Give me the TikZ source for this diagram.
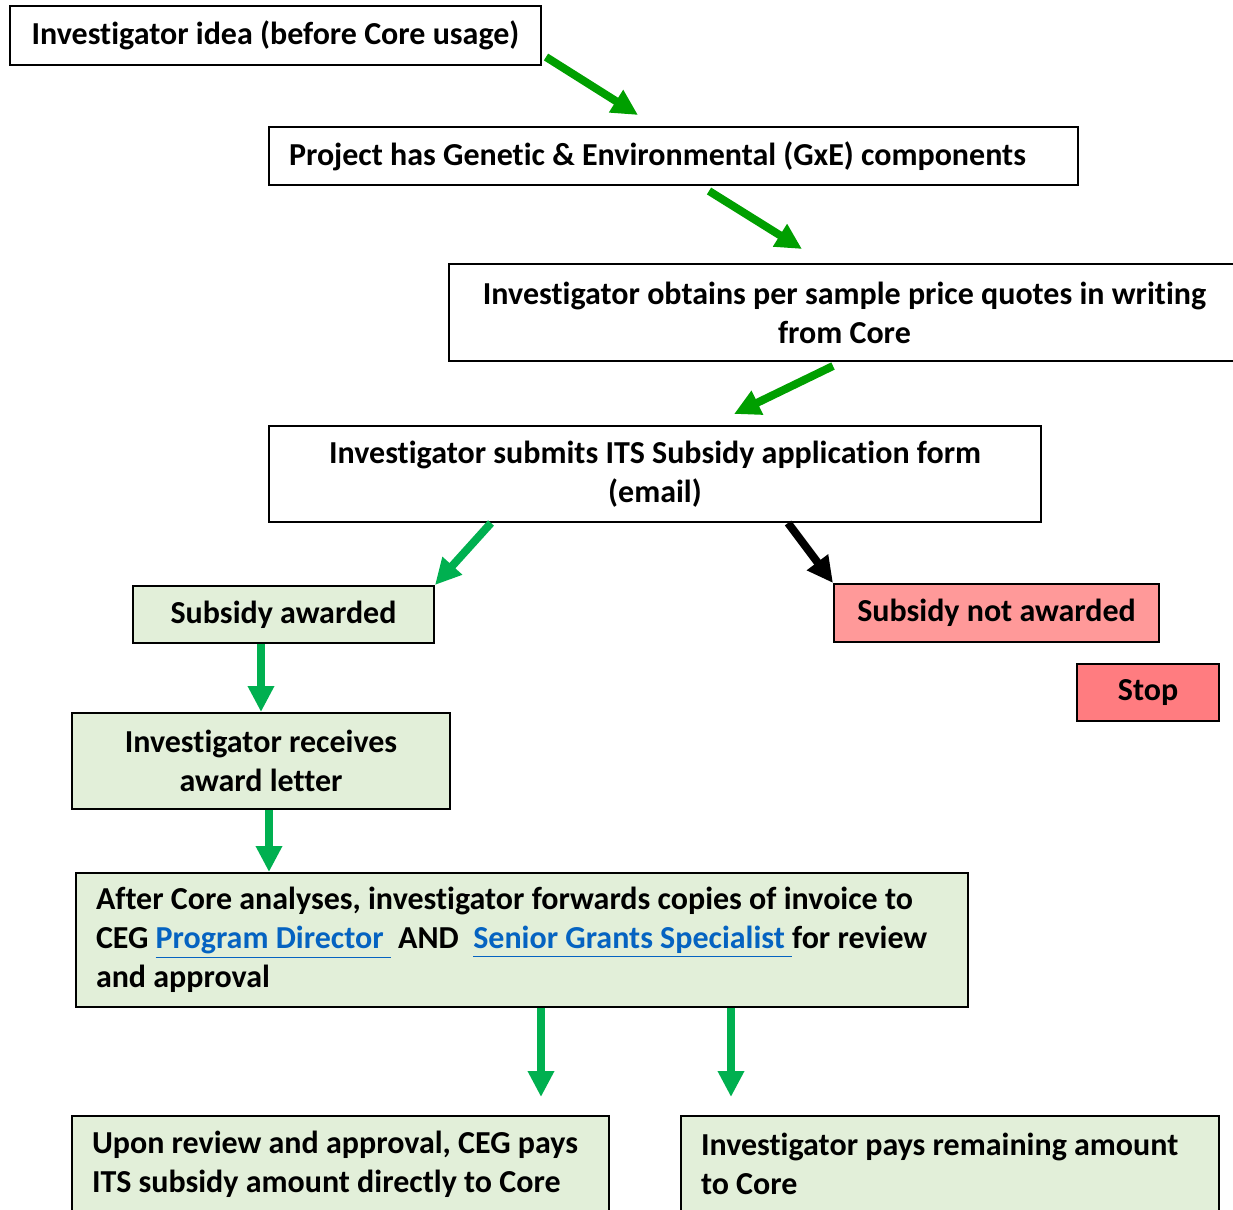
\documentclass[tikz,border=0pt]{standalone}
\usepackage{fontspec}
\setmainfont{Carlito}[Ligatures=NoCommon]
\usetikzlibrary{arrows.meta}
\definecolor{boxgreen}{HTML}{E2EFD9}
\definecolor{nopink}{HTML}{FF9999}
\definecolor{stoppink}{HTML}{FF7C80}
\definecolor{darkarrow}{HTML}{009F00}
\definecolor{brightarrow}{HTML}{00B050}
\definecolor{linkblue}{HTML}{0563C1}
\newcommand{\weblink}[1]{\textcolor{linkblue}{\underline{#1}}}
\tikzset{
  stepbox/.style={rectangle, draw, line width=1pt, inner sep=0pt, font=\fontsize{16}{19.5}\selectfont\bfseries},
  greenbox/.style={stepbox, fill=boxgreen},
  flow/.style={line width=4pt, -{Triangle[length=13pt,width=12.5pt]}},
}
\begin{document}
\begin{tikzpicture}[x=0.5pt, y=-0.5pt]
      \useasboundingbox (0,0) rectangle (1233,1210);
      % Nodes
      \node (idea) at (275.5,35.5) [stepbox, minimum width=265.5pt, minimum height=29.5pt] {Investigator idea (before Core usage)};
      \node (gxe) at (673.5,156) [stepbox, minimum width=404.5pt, minimum height=29pt, text width=384.5pt, align=flush left] {Project has Genetic \& Environmental (GxE) components};
      \node (quotes) at (844.5,312.5) [stepbox, minimum width=395.5pt, minimum height=48.5pt, align=center] {Investigator obtains per sample price quotes in writing\\from Core};
      \node (submits) at (655,474) [stepbox, minimum width=386pt, minimum height=48pt, align=center] {Investigator submits ITS Subsidy application form\\(email)};

      \node (awarded) at (283.5,614.5) [greenbox, minimum width=150.5pt, minimum height=28.5pt] {Subsidy awarded};
      \node (notaw) at (996.5,613) [stepbox, fill=nopink, minimum width=162.5pt, minimum height=29pt] {Subsidy not awarded};
      \node (stop) at (1148,692.5) [stepbox, fill=stoppink, minimum width=71pt, minimum height=28.5pt] {Stop};
      \node (receives) at (261,761) [greenbox, minimum width=189pt, minimum height=48pt, align=center] {Investigator receives\\award letter};

      \node (after) at (522,940) [greenbox, minimum width=446pt, minimum height=67pt, text width=426pt, align=flush left] {After Core analyses, investigator forwards copies of invoice to\\CEG \weblink{Program Director\ } AND\ \ \weblink{Senior Grants Specialist\ }for review\\and approval};
      \node (upon) at (340.5,1164) [greenbox, minimum width=268.5pt, minimum height=48pt, text width=248.5pt, align=flush left] {Upon review and approval, CEG pays\\ITS subsidy amount directly to Core};
      \node (pays) at (950,1164) [greenbox, minimum width=269pt, minimum height=48pt, text width=249pt, align=flush left] {Investigator pays remaining amount\\to Core};

      \coordinate (payA) at (541,1097);
      \coordinate (payB) at (731,1097);

      % Edges
      \draw[flow, darkarrow] (idea.east |- 545,57) ++(4,0) -- (638,115);
      \draw[flow, darkarrow] (709,191) -- (802,249);
      \draw[flow, darkarrow] (833,366) -- (734,414);
      \draw[flow, brightarrow] (submits.south -| 491,0) -- (awarded.north east);
      \draw[flow, black] (submits.south -| 788,0) -- (notaw.north west);
      \draw[flow, brightarrow] (awarded.south -| receives) -- (receives.north);
      \draw[flow, brightarrow] (receives.south -| 269,0) -- (after.north -| 269,0);
      \draw[flow, brightarrow] (after.south -| payA) -- (payA);
      \draw[flow, brightarrow] (after.south -| payB) -- (payB);
    \end{tikzpicture}
\end{document}
